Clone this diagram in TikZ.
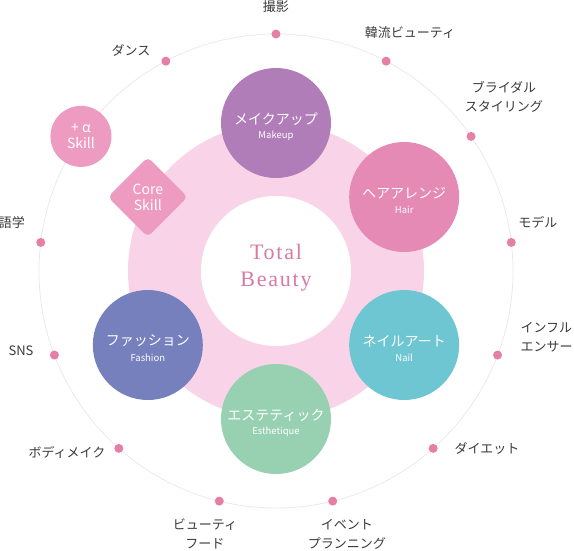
\documentclass[tikz,border=0pt]{standalone}
\usepackage{fontspec}
\setmainfont{Noto Sans CJK JP}
\newfontfamily\beautyfont[LetterSpace=8]{Liberation Serif}
\usetikzlibrary{shapes.geometric}

\definecolor{makeupc}{HTML}{B07DB8}
\definecolor{hairc}{HTML}{E589B5}
\definecolor{nailc}{HTML}{6EC6D2}
\definecolor{esthec}{HTML}{98D0B2}
\definecolor{fashionc}{HTML}{7580BD}
\definecolor{ringpink}{HTML}{F9D4E8}
\definecolor{skillpink}{HTML}{EE9BC2}
\definecolor{spotpink}{HTML}{E67FA6}
\definecolor{orbitc}{HTML}{F0E6EA}
\definecolor{beautyc}{HTML}{D87BA0}
\definecolor{labelgray}{HTML}{3A3A3A}

\tikzstyle{field} = [circle,minimum size=110pt,inner sep=0pt]
\tikzstyle{jp} = [text=white,font=\fontsize{14}{16}\selectfont]
\tikzstyle{en} = [text=white,font=\fontsize{9.5}{11}\selectfont]
\tikzstyle{spot} = [circle,fill=spotpink,minimum size=9pt,inner sep=0pt]
\tikzstyle{topic} = [text=labelgray,align=center,font=\fontsize{13}{19}\selectfont]
\tikzstyle{skill} = [fill=skillpink,text=white,align=center,inner sep=0pt,font=\fontsize{14}{16}\selectfont]

\begin{document}
\begin{tikzpicture}[x=1pt,y=1pt]
	\useasboundingbox (-276,-279) rectangle (298,271);
	\draw[orbitc,line width=0.8pt] (0,0) circle (237pt);
	\fill[ringpink] (0,0) circle (148pt);
	\fill[white] (0,0) circle (75pt);
	\node[text=beautyc,align=center,font=\beautyfont\fontsize{22}{27}\selectfont] (total) at (0,3) {Total\\Beauty};
	\foreach \k in {0,...,10,12}
	{\node[spot] (s\k) at (90-\k*360/13:237) {};}
	\node[topic] (t0) at (0,264) {撮影};
	\node[topic] (t1) at (134,238) {韓流ビューティ};
	\node[topic] (t2) at (228,174) {ブライダル\\スタイリング};
	\node[topic] (t3) at (262,49) {モデル};
	\node[topic,anchor=west,align=left] (t4) at (241,-66) {インフル\\エンサー};
	\node[topic] (t5) at (211,-177) {ダイエット};
	\node[topic] (t6) at (71,-263) {イベント\\プランニング};
	\node[topic] (t7) at (-71,-263) {ビューティ\\フード};
	\node[topic] (t8) at (-209,-181) {ボディメイク};
	\node[topic] (t9) at (-255,-80) {SNS};
	\node[topic] (t10) at (-264,48) {語学};
	\node[topic] (t12) at (-145,221) {ダンス};
	\node[skill,circle,minimum size=61pt] (plus) at (90+2*360/13:237) {+ α\\Skill};
	\node[skill,diamond,minimum width=80pt,minimum height=80pt,rounded corners=5pt] (core) at (150:148) {Core\\Skill};
	\node[field,fill=makeupc] (makeup) at (90:148) {};
	\node[jp] at ([yshift=4pt]makeup.center) {メイクアップ};
	\node[en] at ([yshift=-13pt]makeup.center) {Makeup};
	\node[field,fill=hairc] (hair) at (30:148) {};
	\node[jp] at ([yshift=4pt]hair.center) {ヘアアレンジ};
	\node[en] at ([yshift=-13pt]hair.center) {Hair};
	\node[field,fill=nailc] (nail) at (-30:148) {};
	\node[jp] at ([yshift=4pt]nail.center) {ネイルアート};
	\node[en] at ([yshift=-13pt]nail.center) {Nail};
	\node[field,fill=esthec] (esthe) at (-90:148) {};
	\node[jp] at ([yshift=4pt]esthe.center) {エステティック};
	\node[en] at ([yshift=-13pt]esthe.center) {Esthetique};
	\node[field,fill=fashionc] (fashion) at (-150:148) {};
	\node[jp] at ([yshift=4pt]fashion.center) {ファッション};
	\node[en] at ([yshift=-13pt]fashion.center) {Fashion};
\end{tikzpicture}
\end{document}
